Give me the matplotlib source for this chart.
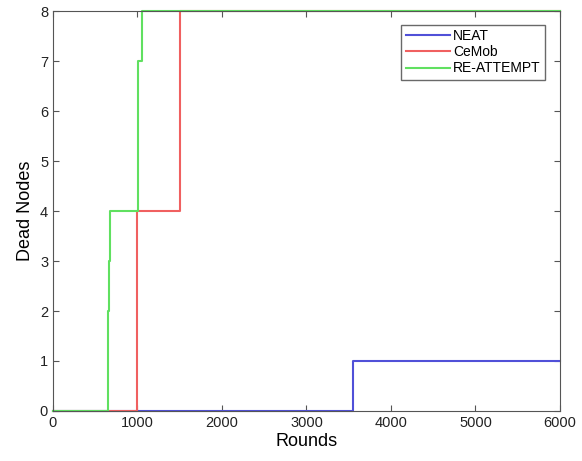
import numpy as np
import matplotlib.pyplot as plt

plt.rcParams['font.family'] = ['Liberation Sans', 'DejaVu Sans']

# step data (round at which dead node count changes)
neat_rounds = [0, 3555, 6000]
neat_dead = [0, 1, 1]
cemob_rounds = [0, 1000, 1500, 6000]
cemob_dead = [0, 4, 8, 8]
reatt_rounds = [0, 655, 668, 680, 1010, 1050, 6000]
reatt_dead = [0, 2, 3, 4, 7, 8, 8]

fig = plt.figure(figsize=(5.82, 4.61), dpi=100)
ax = fig.add_axes([0.091, 0.1085, 0.871, 0.8675])

ax.step(neat_rounds, neat_dead, where='post', color='#5050d8', lw=1.5, label='NEAT', clip_on=False)
ax.step(cemob_rounds, cemob_dead, where='post', color='#f06060', lw=1.5, label='CeMob', clip_on=False)
ax.step(reatt_rounds, reatt_dead, where='post', color='#60e060', lw=1.5, label='RE-ATTEMPT', clip_on=False)

ax.set_xlim(0, 6000)
ax.set_ylim(0, 8)
ax.set_xticks(np.arange(0, 6001, 1000))
ax.set_yticks(np.arange(0, 9, 1))
ax.tick_params(direction='in', top=True, right=True, labelsize=10.5, length=4, color='#555555', labelcolor='#222222')
for s in ax.spines.values():
    s.set_color('#555555')
ax.set_xlabel('Rounds', fontsize=13, labelpad=2)
ax.set_ylabel('Dead Nodes', fontsize=13, labelpad=4)

leg = ax.legend(loc='upper right', bbox_to_anchor=(0.970, 0.965), fancybox=False, fontsize=10,
                handlelength=3.2, borderaxespad=0, borderpad=0.3, labelspacing=0.15, handletextpad=0.2)
leg.get_frame().set_edgecolor('#444444')
leg.get_frame().set_linewidth(1.0)

plt.savefig('out.png', dpi=100)
